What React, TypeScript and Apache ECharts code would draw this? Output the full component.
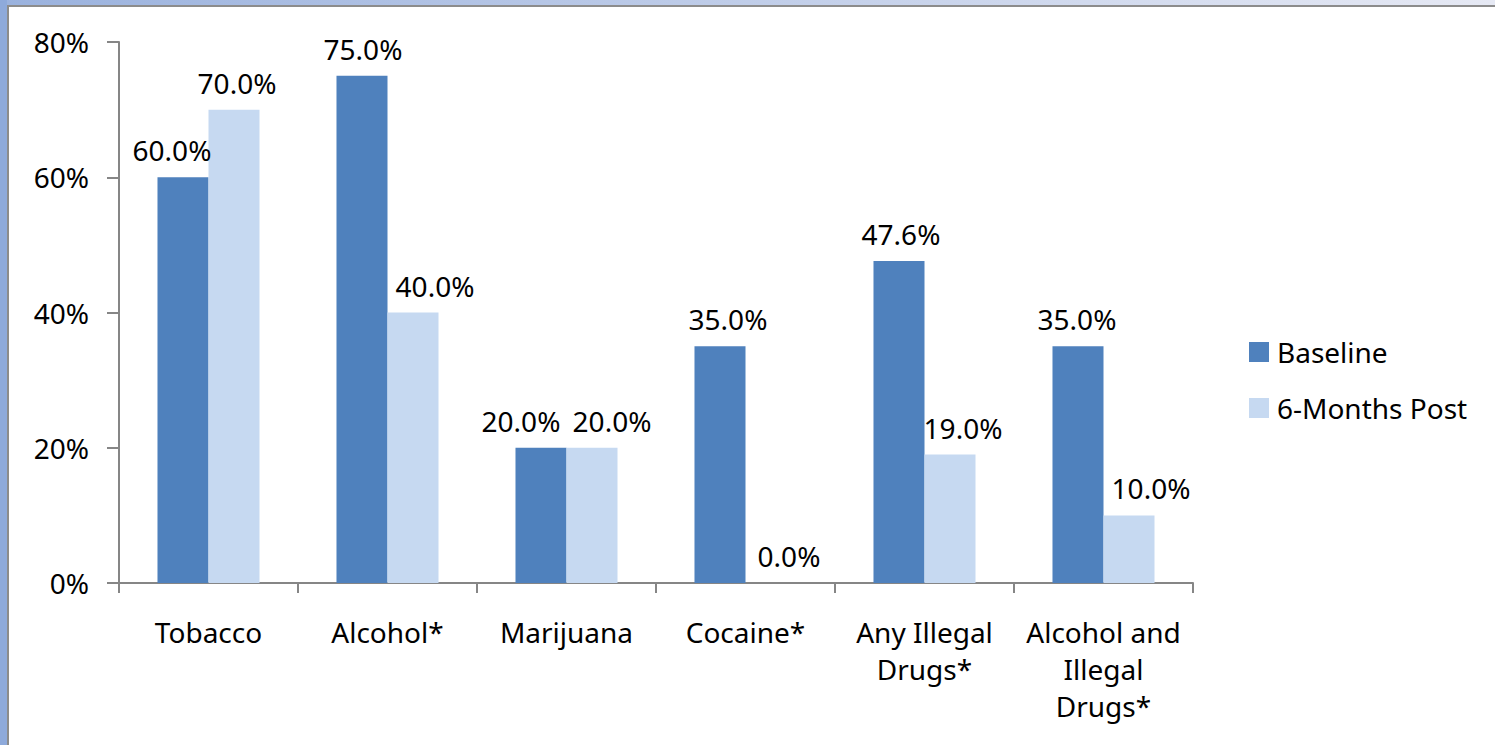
import React, { useEffect, useRef } from "react";
import * as echarts from "echarts";

const categories = [
  "Tobacco",
  "Alcohol*",
  "Marijuana",
  "Cocaine*",
  "Any Illegal\nDrugs*",
  "Alcohol and\nIllegal\nDrugs*",
];
const baseline = [60.0, 75.0, 20.0, 35.0, 47.6, 35.0];
const sixMonths = [70.0, 40.0, 20.0, 0.0, 19.0, 10.0];
const seriesNames = ["Baseline", "6-Months Post"];
const yTicks = { min: 0, max: 80, interval: 20 };

// horizontal nudges of the data labels (as Excel placed them)
const baselineLabelShift = [-11, 1, -20, 8, 2, -1];
const postLabelShift = [3, 22, 20, 18, 13, 22];

const FONT = "'Noto Sans', 'Open Sans', sans-serif";
const FS = 28;

export default function App() {
  const ref = useRef<HTMLDivElement>(null);
  useEffect(() => {
    if (!ref.current) return;
    const chart = echarts.init(ref.current, null, { renderer: "svg" });
    const labelStyle = {
      show: true,
      position: "top" as const,
      distance: 13,
      color: "#000",
      fontSize: FS,
      fontFamily: FONT,
      formatter: (p: any) => Number(p.value).toFixed(1) + "%",
    };
    const withShift = (vals: number[], shifts: number[]) =>
      vals.map((v, i) => ({ value: v, label: { offset: [shifts[i], 0] } }));
    chart.setOption({
      animation: false,
      backgroundColor: "#ffffff",
      textStyle: { fontFamily: FONT },
      graphic: [
        {
          type: "rect",
          shape: { x: 0, y: 0, width: 1495, height: 5 },
          style: {
            fill: new echarts.graphic.LinearGradient(0, 0, 1, 0, [
              { offset: 0, color: "#9ab2de" },
              { offset: 1, color: "#e6e9f4" },
            ]),
          },
          silent: true,
        },
        {
          type: "rect",
          shape: { x: 0, y: 0, width: 7, height: 745 },
          style: { fill: "#8eaadb" },
          silent: true,
        },
        {
          type: "rect",
          shape: { x: 7, y: 5, width: 1488, height: 2 },
          style: { fill: "#8c8c8c" },
          silent: true,
        },
        {
          type: "rect",
          shape: { x: 7, y: 5, width: 2, height: 740 },
          style: { fill: "#8c8c8c" },
          silent: true,
        },
      ],
      grid: { left: 119, right: 302, top: 42, bottom: 162, containLabel: false },
      legend: {
        orient: "vertical",
        left: 1244,
        top: 333,
        itemWidth: 20,
        itemHeight: 20,
        itemGap: 28,
        icon: "rect",
        textStyle: { fontSize: FS, color: "#000", fontFamily: FONT, padding: [0, 0, 0, 3] },
        data: seriesNames,
      },
      xAxis: {
        type: "category",
        data: categories,
        axisLine: { lineStyle: { color: "#868686", width: 2 } },
        axisTick: { show: true, length: 10, lineStyle: { color: "#868686", width: 2 } },
        axisLabel: {
          color: "#000",
          fontSize: FS,
          fontFamily: FONT,
          margin: 30,
          lineHeight: 37,
          interval: 0,
        },
      },
      yAxis: {
        type: "value",
        min: yTicks.min,
        max: yTicks.max,
        interval: yTicks.interval,
        splitLine: { show: false },
        axisLine: { show: true, lineStyle: { color: "#868686", width: 2 } },
        axisTick: { show: true, length: 12, lineStyle: { color: "#868686", width: 2 } },
        axisLabel: {
          color: "#000",
          fontSize: FS,
          fontFamily: FONT,
          margin: 30,
          formatter: "{value}%",
        },
      },
      series: [
        {
          name: seriesNames[0],
          type: "bar",
          data: withShift(baseline, baselineLabelShift),
          barGap: "0%",
          barCategoryGap: "43%",
          itemStyle: { color: "#4f81bd" },
          label: labelStyle,
        },
        {
          name: seriesNames[1],
          type: "bar",
          data: withShift(sixMonths, postLabelShift),
          barGap: "0%",
          barCategoryGap: "43%",
          itemStyle: { color: "#c6d9f1" },
          label: labelStyle,
        },
      ],
    });
    return () => chart.dispose();
  }, []);
  return (
    <div
      ref={ref}
      style={{ position: "fixed", left: 0, top: 0, width: 1495, height: 745 }}
    />
  );
}
